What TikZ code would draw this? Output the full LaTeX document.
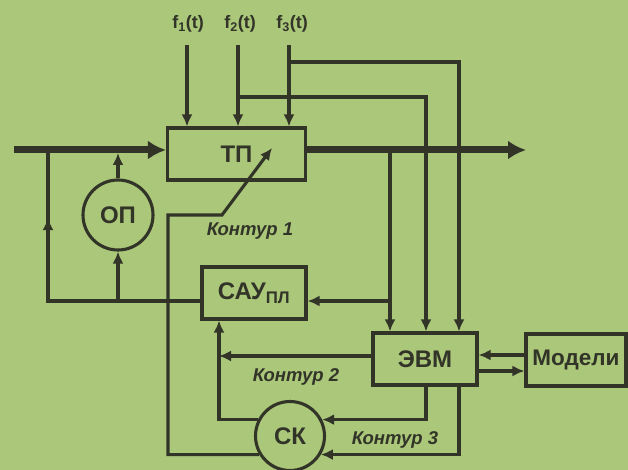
\documentclass[tikz,border=0pt]{standalone}
\usepackage{fontspec}
\setmainfont{Liberation Sans}
\usepackage{tikz}
\usetikzlibrary{arrows.meta,positioning}
\definecolor{bgcol}{RGB}{170,199,122}
\definecolor{ink}{RGB}{50,52,40}

\begin{document}
\begin{tikzpicture}[x=1pt,y=-1pt,
	line/.style={draw=ink,line width=3.1pt},
	arr/.style={line,-{Latex[length=12pt,width=11pt]}},
	bigarr/.style={draw=ink,line width=7pt,-{Latex[length=18pt,width=19pt]}},
	box/.style={draw=ink,line width=3.1pt,minimum height=52pt,inner sep=0pt,text=ink,font=\bfseries\fontsize{24}{24}\selectfont},
	ring/.style={circle,draw=ink,line width=3.1pt,minimum size=69pt,inner sep=0pt,text=ink,font=\bfseries\fontsize{24}{24}\selectfont},
	kont/.style={text=ink,font=\bfseries\itshape\fontsize{18.5}{18.5}\selectfont},
	flab/.style={text=ink,font=\bfseries\fontsize{18}{18}\selectfont}]

	\fill[bgcol] (0,0) rectangle (628,470);
	\useasboundingbox (0,0) rectangle (628,470);

	\node[box,minimum width=138pt] (TP) at (236.5,154) {ТП};
	\node[box,minimum width=104pt] (SAU) at (254,293) {САУ\textsubscript{ПЛ}};
	\node[box,minimum width=104pt] (EVM) at (425,359) {ЭВМ};
	\node[box,minimum width=100pt,font=\bfseries\fontsize{22.5}{22.5}\selectfont] (MOD) at (576,360) {Модели};
	\node[ring,minimum size=70pt] (OP) at (118,215) {ОП};
	\node[ring] (SK) at (290,436) {СК};

	\node[flab] (f1) at (188,24) {f\textsubscript{1}(t)};
	\node[flab] (f2) at (240,24) {f\textsubscript{2}(t)};
	\node[flab] (f3) at (292,24) {f\textsubscript{3}(t)};

	\coordinate (t1) at (187,45);
	\coordinate (t2) at (238,45);
	\coordinate (t3) at (289,45);
	\coordinate (in) at (14,150);
	\coordinate (inb) at (14,153);
	\coordinate (out) at (526,150);
	\coordinate (e1) at (390,150);
	\coordinate (e2) at (426,97);
	\coordinate (e3) at (459,62);
	\coordinate (s1) at (390,301);
	\coordinate (fb) at (48,301);
	\coordinate (fbm) at (48,218);
	\coordinate (s2) at (219,356);
	\coordinate (c1) at (168,215);
	\coordinate (c2) at (222,215);
	\coordinate (c3) at (272,148);
	\coordinate (m1) at (500,355);
	\coordinate (m2) at (500,371);

	\draw[line] (SAU.west|-fb) -- (fb) -- (fb|-in);
	\draw[arr] (fb) -- (fbm);
	\draw[bigarr] (in) -- (TP.west|-in);
	\draw[bigarr] (TP.east|-in) -- (out);

	\draw[arr] (t1) -- (t1|-TP.north);
	\draw[arr] (t2) -- (t2|-TP.north);
	\draw[arr] (t3) -- (t3|-TP.north);
	\draw[arr] (t2|-e2) -| (e2|-EVM.north);
	\draw[arr] (t3|-e3) -| (e3|-EVM.north);
	\draw[arr] (e1) -- (e1|-EVM.north);
	\draw[arr] (s1) -- (SAU.east|-s1);

	\draw[arr] (OP.north) -- (OP.north|-inb);
	\draw[arr] (OP.south|-fb) -- (OP.south);

	\draw[arr] (SK.211) -| (c1) -- (c2) -- (c3);
	\draw[arr] (EVM.west|-s2) -- (s2);
	\draw[arr] (SK.153) -| (s2|-SAU.south);
	\draw[arr] (e2|-EVM.south) |- (SK.27);
	\draw[arr] (e3|-EVM.south) |- (SK.329);
	\draw[arr] (MOD.west|-m1) -- (EVM.east|-m1);
	\draw[arr] (EVM.east|-m2) -- (MOD.west|-m2);

	\node[kont] (k1) at (250,231) {Контур 1};
	\node[kont] (k2) at (296,377) {Контур 2};
	\node[kont] (k3) at (395,440) {Контур 3};

\end{tikzpicture}
\end{document}
